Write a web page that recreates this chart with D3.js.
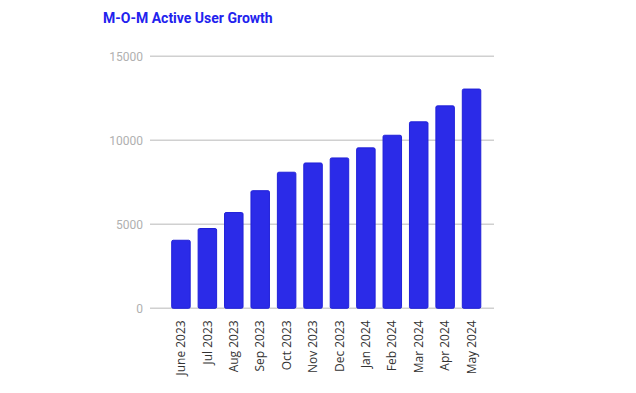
<!DOCTYPE html>
<html lang="en">
<head>
    <meta charset="UTF-8">
    <title>M-O-M Active User Growth</title>
    <style>
        body{
            margin: 0;
            background: #ffffff;
        }
        svg{
            display: block;
        }
        .title{
            font-family: Roboto, sans-serif;
            font-weight: bold;
            font-size: 14px;
            fill: #2222ee;
        }
        .yAxis text{
            font-family: Roboto, sans-serif;
            font-size: 12px;
            fill: #b0b0b0;
        }
        .xAxis text{
            font-family: "Open Sans", sans-serif;
            font-size: 12px;
            fill: #333333;
        }
        .grid line{
            stroke: #d0d0d0;
            stroke-width: 1.5px;
        }
        .bar{
            fill: #2b2be8;
            stroke: #2020d8;
            stroke-width: 1px;
        }
    </style>
    <script src="https://cdn.jsdelivr.net/npm/d3@7"></script>
</head>
<body>
<script>
    // data
    const months = ["June 2023","Jul 2023","Aug 2023","Sep 2023","Oct 2023","Nov 2023",
                    "Dec 2023","Jan 2024","Feb 2024","Mar 2024","Apr 2024","May 2024"]
    const activeUsers = [4050,4750,5700,7000,8100,8650,8950,9550,10300,11100,12050,13050]
    const yTicks = [0,5000,10000,15000]

    const width = 636
    const height = 393
    const plot = {left:150, right:494, top:56.3, bottom:308.3}

    const svg = d3.select("body").append("svg")
        .attr("width",width)
        .attr("height",height)

    svg.append("text")
        .attr("class","title")
        .attr("x",103)
        .attr("y",23)
        .text("M-O-M Active User Growth")

    const x = d3.scaleBand()
        .domain(months)
        .range([158.5,plot.right])
        .paddingInner(0.3)
        .paddingOuter(0.5)

    const y = d3.scaleLinear()
        .domain([0,15000])
        .range([plot.bottom,plot.top])

    // gridlines
    svg.append("g").attr("class","grid")
        .selectAll("line")
        .data(yTicks)
        .enter()
        .append("line")
        .attr("x1",plot.left)
        .attr("x2",plot.right)
        .attr("y1",d=>y(d))
        .attr("y2",d=>y(d))

    // y labels
    const yAxis = svg.append("g").attr("class","yAxis")
        .attr("transform",`translate(${plot.left},0)`)
        .call(d3.axisLeft(y).tickValues(yTicks).tickSize(0).tickPadding(7).tickFormat(d3.format("d")))
    yAxis.select(".domain").remove()

    // bars
    svg.append("g")
        .selectAll(".bar")
        .data(months.map((m,i)=>({month:m, value:activeUsers[i]})))
        .enter()
        .append("rect")
        .attr("class","bar")
        .attr("x",d=>x(d.month))
        .attr("y",d=>y(d.value))
        .attr("width",x.bandwidth())
        .attr("height",d=>y(0)-y(d.value))
        .attr("rx",1.5)

    // x labels, rotated
    const xAxis = svg.append("g").attr("class","xAxis")
        .attr("transform",`translate(0,${plot.bottom})`)
        .call(d3.axisBottom(x).tickSize(0).tickPadding(0))
    xAxis.select(".domain").remove()
    xAxis.selectAll("text")
        .attr("text-anchor","end")
        .attr("dy","0.35em")
        .attr("transform","translate(0,12) rotate(-90)")
        .attr("y",0)
        .attr("x",0)
</script>
</body>
</html>
